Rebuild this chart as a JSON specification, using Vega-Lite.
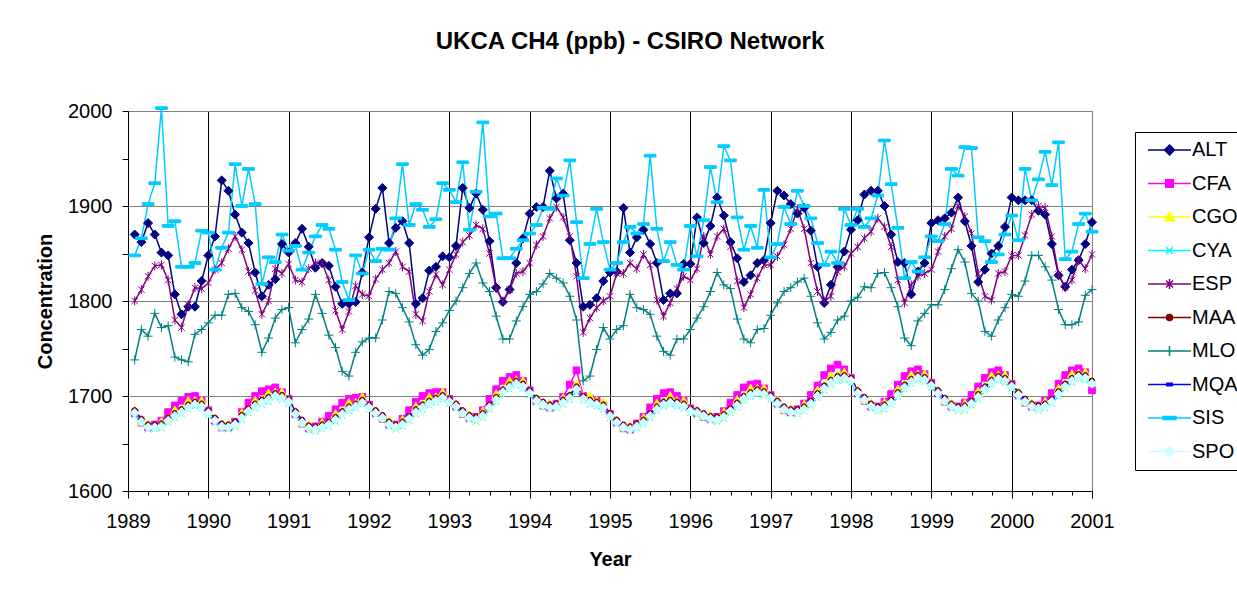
{
"$schema":"https://vega.github.io/schema/vega-lite/v6.json",
"width":964,"height":380,
"autosize":"none",
"padding":{"left":128,"top":111,"right":145,"bottom":99},
"background":"white",
"title":{"text":"UKCA CH4 (ppb) - CSIRO Network","font":"Liberation Sans","fontSize":24,"fontWeight":"bold","anchor":"middle","frame":"group","dx":20,"offset":47,"color":"black"},
"config":{"view":{"stroke":"#808080","strokeWidth":1},"font":"Liberation Sans"},
"data":{"values":[
{"m":1,"ALT":1870,"CFA":1682,"CGO":1685,"CYA":1680,"ESP":1800,"MAA":1685,"MLO":1738,"MQA":1684,"SIS":1848,"SPO":1682},
{"m":2,"ALT":1862,"CFA":1672,"CGO":1673,"CYA":1671,"ESP":1812,"MAA":1676,"MLO":1770,"MQA":1675,"SIS":1866,"SPO":1673},
{"m":3,"ALT":1882,"CFA":1667,"CGO":1671,"CYA":1665,"ESP":1826,"MAA":1670,"MLO":1763,"MQA":1669,"SIS":1902,"SPO":1667},
{"m":4,"ALT":1870,"CFA":1670,"CGO":1668,"CYA":1665,"ESP":1837,"MAA":1670,"MLO":1787,"MQA":1669,"SIS":1924,"SPO":1667},
{"m":5,"ALT":1851,"CFA":1674,"CGO":1673,"CYA":1666,"ESP":1838,"MAA":1671,"MLO":1772,"MQA":1670,"SIS":2003,"SPO":1668},
{"m":6,"ALT":1848,"CFA":1683,"CGO":1676,"CYA":1672,"ESP":1822,"MAA":1677,"MLO":1774,"MQA":1676,"SIS":1879,"SPO":1674},
{"m":7,"ALT":1807,"CFA":1690,"CGO":1685,"CYA":1677,"ESP":1780,"MAA":1682,"MLO":1741,"MQA":1681,"SIS":1884,"SPO":1679},
{"m":8,"ALT":1786,"CFA":1695,"CGO":1686,"CYA":1681,"ESP":1772,"MAA":1686,"MLO":1738,"MQA":1685,"SIS":1836,"SPO":1683},
{"m":9,"ALT":1794,"CFA":1699,"CGO":1695,"CYA":1686,"ESP":1796,"MAA":1691,"MLO":1736,"MQA":1690,"SIS":1836,"SPO":1688},
{"m":10,"ALT":1794,"CFA":1700,"CGO":1695,"CYA":1689,"ESP":1814,"MAA":1694,"MLO":1765,"MQA":1693,"SIS":1840,"SPO":1691},
{"m":11,"ALT":1821,"CFA":1695,"CGO":1695,"CYA":1687,"ESP":1813,"MAA":1692,"MLO":1770,"MQA":1691,"SIS":1874,"SPO":1689},
{"m":12,"ALT":1848,"CFA":1685,"CGO":1684,"CYA":1680,"ESP":1819,"MAA":1685,"MLO":1777,"MQA":1684,"SIS":1872,"SPO":1682},
{"m":13,"ALT":1868,"CFA":1674,"CGO":1677,"CYA":1672,"ESP":1833,"MAA":1677,"MLO":1785,"MQA":1676,"SIS":1833,"SPO":1674},
{"m":14,"ALT":1927,"CFA":1667,"CGO":1668,"CYA":1666,"ESP":1840,"MAA":1671,"MLO":1785,"MQA":1670,"SIS":1856,"SPO":1668},
{"m":15,"ALT":1916,"CFA":1667,"CGO":1671,"CYA":1665,"ESP":1855,"MAA":1670,"MLO":1807,"MQA":1669,"SIS":1872,"SPO":1667},
{"m":16,"ALT":1891,"CFA":1673,"CGO":1671,"CYA":1668,"ESP":1868,"MAA":1673,"MLO":1808,"MQA":1672,"SIS":1944,"SPO":1670},
{"m":17,"ALT":1872,"CFA":1683,"CGO":1682,"CYA":1675,"ESP":1854,"MAA":1680,"MLO":1793,"MQA":1679,"SIS":1900,"SPO":1677},
{"m":18,"ALT":1861,"CFA":1693,"CGO":1686,"CYA":1682,"ESP":1831,"MAA":1687,"MLO":1789,"MQA":1686,"SIS":1939,"SPO":1684},
{"m":19,"ALT":1830,"CFA":1700,"CGO":1695,"CYA":1687,"ESP":1811,"MAA":1692,"MLO":1775,"MQA":1691,"SIS":1902,"SPO":1689},
{"m":20,"ALT":1805,"CFA":1705,"CGO":1696,"CYA":1691,"ESP":1786,"MAA":1696,"MLO":1746,"MQA":1695,"SIS":1818,"SPO":1693},
{"m":21,"ALT":1817,"CFA":1707,"CGO":1703,"CYA":1694,"ESP":1800,"MAA":1699,"MLO":1761,"MQA":1698,"SIS":1846,"SPO":1696},
{"m":22,"ALT":1823,"CFA":1709,"CGO":1704,"CYA":1698,"ESP":1834,"MAA":1703,"MLO":1782,"MQA":1702,"SIS":1841,"SPO":1700},
{"m":23,"ALT":1860,"CFA":1704,"CGO":1704,"CYA":1696,"ESP":1829,"MAA":1701,"MLO":1791,"MQA":1700,"SIS":1870,"SPO":1698},
{"m":24,"ALT":1851,"CFA":1697,"CGO":1696,"CYA":1692,"ESP":1839,"MAA":1697,"MLO":1793,"MQA":1696,"SIS":1853,"SPO":1694},
{"m":25,"ALT":1861,"CFA":1681,"CGO":1684,"CYA":1679,"ESP":1822,"MAA":1684,"MLO":1756,"MQA":1683,"SIS":1858,"SPO":1681},
{"m":26,"ALT":1876,"CFA":1671,"CGO":1672,"CYA":1670,"ESP":1820,"MAA":1675,"MLO":1770,"MQA":1674,"SIS":1833,"SPO":1672},
{"m":27,"ALT":1857,"CFA":1666,"CGO":1670,"CYA":1664,"ESP":1834,"MAA":1669,"MLO":1781,"MQA":1668,"SIS":1851,"SPO":1666},
{"m":28,"ALT":1835,"CFA":1668,"CGO":1666,"CYA":1663,"ESP":1840,"MAA":1668,"MLO":1807,"MQA":1667,"SIS":1868,"SPO":1665},
{"m":29,"ALT":1840,"CFA":1673,"CGO":1672,"CYA":1665,"ESP":1840,"MAA":1670,"MLO":1787,"MQA":1669,"SIS":1880,"SPO":1667},
{"m":30,"ALT":1837,"CFA":1679,"CGO":1672,"CYA":1668,"ESP":1822,"MAA":1673,"MLO":1764,"MQA":1672,"SIS":1876,"SPO":1670},
{"m":31,"ALT":1815,"CFA":1686,"CGO":1681,"CYA":1673,"ESP":1790,"MAA":1678,"MLO":1751,"MQA":1677,"SIS":1854,"SPO":1675},
{"m":32,"ALT":1797,"CFA":1693,"CGO":1684,"CYA":1679,"ESP":1770,"MAA":1684,"MLO":1726,"MQA":1683,"SIS":1820,"SPO":1681},
{"m":33,"ALT":1797,"CFA":1697,"CGO":1693,"CYA":1684,"ESP":1789,"MAA":1689,"MLO":1721,"MQA":1688,"SIS":1801,"SPO":1686},
{"m":34,"ALT":1799,"CFA":1698,"CGO":1693,"CYA":1687,"ESP":1816,"MAA":1692,"MLO":1746,"MQA":1691,"SIS":1848,"SPO":1689},
{"m":35,"ALT":1830,"CFA":1699,"CGO":1699,"CYA":1691,"ESP":1807,"MAA":1696,"MLO":1757,"MQA":1695,"SIS":1829,"SPO":1693},
{"m":36,"ALT":1867,"CFA":1691,"CGO":1690,"CYA":1686,"ESP":1805,"MAA":1691,"MLO":1761,"MQA":1690,"SIS":1854,"SPO":1688},
{"m":37,"ALT":1897,"CFA":1682,"CGO":1685,"CYA":1680,"ESP":1823,"MAA":1685,"MLO":1761,"MQA":1684,"SIS":1842,"SPO":1682},
{"m":38,"ALT":1919,"CFA":1676,"CGO":1677,"CYA":1675,"ESP":1833,"MAA":1680,"MLO":1780,"MQA":1679,"SIS":1855,"SPO":1677},
{"m":39,"ALT":1861,"CFA":1670,"CGO":1674,"CYA":1668,"ESP":1840,"MAA":1673,"MLO":1810,"MQA":1672,"SIS":1854,"SPO":1670},
{"m":40,"ALT":1877,"CFA":1670,"CGO":1668,"CYA":1665,"ESP":1852,"MAA":1670,"MLO":1808,"MQA":1669,"SIS":1887,"SPO":1667},
{"m":41,"ALT":1884,"CFA":1676,"CGO":1675,"CYA":1668,"ESP":1836,"MAA":1673,"MLO":1793,"MQA":1672,"SIS":1944,"SPO":1670},
{"m":42,"ALT":1861,"CFA":1685,"CGO":1678,"CYA":1674,"ESP":1831,"MAA":1679,"MLO":1778,"MQA":1678,"SIS":1880,"SPO":1676},
{"m":43,"ALT":1797,"CFA":1694,"CGO":1689,"CYA":1681,"ESP":1786,"MAA":1686,"MLO":1754,"MQA":1685,"SIS":1902,"SPO":1683},
{"m":44,"ALT":1803,"CFA":1700,"CGO":1691,"CYA":1686,"ESP":1779,"MAA":1691,"MLO":1743,"MQA":1690,"SIS":1896,"SPO":1688},
{"m":45,"ALT":1832,"CFA":1703,"CGO":1699,"CYA":1690,"ESP":1810,"MAA":1695,"MLO":1749,"MQA":1694,"SIS":1878,"SPO":1692},
{"m":46,"ALT":1836,"CFA":1704,"CGO":1699,"CYA":1693,"ESP":1828,"MAA":1698,"MLO":1768,"MQA":1697,"SIS":1886,"SPO":1695},
{"m":47,"ALT":1847,"CFA":1704,"CGO":1704,"CYA":1696,"ESP":1817,"MAA":1701,"MLO":1777,"MQA":1700,"SIS":1924,"SPO":1698},
{"m":48,"ALT":1846,"CFA":1697,"CGO":1696,"CYA":1692,"ESP":1833,"MAA":1697,"MLO":1790,"MQA":1696,"SIS":1917,"SPO":1694},
{"m":49,"ALT":1858,"CFA":1689,"CGO":1692,"CYA":1687,"ESP":1849,"MAA":1692,"MLO":1800,"MQA":1691,"SIS":1904,"SPO":1689},
{"m":50,"ALT":1919,"CFA":1681,"CGO":1682,"CYA":1680,"ESP":1862,"MAA":1685,"MLO":1814,"MQA":1684,"SIS":1946,"SPO":1682},
{"m":51,"ALT":1898,"CFA":1677,"CGO":1681,"CYA":1675,"ESP":1869,"MAA":1680,"MLO":1829,"MQA":1679,"SIS":1875,"SPO":1677},
{"m":52,"ALT":1913,"CFA":1678,"CGO":1676,"CYA":1673,"ESP":1880,"MAA":1678,"MLO":1840,"MQA":1677,"SIS":1915,"SPO":1675},
{"m":53,"ALT":1896,"CFA":1685,"CGO":1684,"CYA":1677,"ESP":1876,"MAA":1682,"MLO":1819,"MQA":1681,"SIS":1988,"SPO":1679},
{"m":54,"ALT":1863,"CFA":1697,"CGO":1690,"CYA":1686,"ESP":1850,"MAA":1691,"MLO":1810,"MQA":1690,"SIS":1889,"SPO":1688},
{"m":55,"ALT":1814,"CFA":1707,"CGO":1702,"CYA":1694,"ESP":1813,"MAA":1699,"MLO":1784,"MQA":1698,"SIS":1892,"SPO":1696},
{"m":56,"ALT":1799,"CFA":1716,"CGO":1707,"CYA":1702,"ESP":1800,"MAA":1707,"MLO":1760,"MQA":1706,"SIS":1845,"SPO":1704},
{"m":57,"ALT":1812,"CFA":1720,"CGO":1716,"CYA":1707,"ESP":1812,"MAA":1712,"MLO":1760,"MQA":1711,"SIS":1845,"SPO":1709},
{"m":58,"ALT":1840,"CFA":1722,"CGO":1717,"CYA":1711,"ESP":1829,"MAA":1716,"MLO":1779,"MQA":1715,"SIS":1855,"SPO":1713},
{"m":59,"ALT":1866,"CFA":1716,"CGO":1716,"CYA":1708,"ESP":1831,"MAA":1713,"MLO":1794,"MQA":1712,"SIS":1864,"SPO":1710},
{"m":60,"ALT":1892,"CFA":1706,"CGO":1705,"CYA":1701,"ESP":1840,"MAA":1706,"MLO":1807,"MQA":1705,"SIS":1871,"SPO":1703},
{"m":61,"ALT":1899,"CFA":1695,"CGO":1698,"CYA":1693,"ESP":1859,"MAA":1698,"MLO":1810,"MQA":1697,"SIS":1880,"SPO":1695},
{"m":62,"ALT":1899,"CFA":1690,"CGO":1691,"CYA":1689,"ESP":1868,"MAA":1694,"MLO":1818,"MQA":1693,"SIS":1898,"SPO":1691},
{"m":63,"ALT":1937,"CFA":1688,"CGO":1692,"CYA":1686,"ESP":1887,"MAA":1691,"MLO":1829,"MQA":1690,"SIS":1897,"SPO":1688},
{"m":64,"ALT":1908,"CFA":1692,"CGO":1690,"CYA":1687,"ESP":1899,"MAA":1692,"MLO":1824,"MQA":1691,"SIS":1929,"SPO":1689},
{"m":65,"ALT":1913,"CFA":1699,"CGO":1698,"CYA":1691,"ESP":1888,"MAA":1696,"MLO":1819,"MQA":1695,"SIS":1911,"SPO":1693},
{"m":66,"ALT":1864,"CFA":1712,"CGO":1700,"CYA":1696,"ESP":1868,"MAA":1701,"MLO":1805,"MQA":1700,"SIS":1948,"SPO":1698},
{"m":67,"ALT":1840,"CFA":1727,"CGO":1713,"CYA":1705,"ESP":1826,"MAA":1710,"MLO":1780,"MQA":1709,"SIS":1883,"SPO":1707},
{"m":68,"ALT":1794,"CFA":1700,"CGO":1700,"CYA":1695,"ESP":1767,"MAA":1700,"MLO":1716,"MQA":1699,"SIS":1824,"SPO":1697},
{"m":69,"ALT":1796,"CFA":1697,"CGO":1700,"CYA":1691,"ESP":1782,"MAA":1696,"MLO":1721,"MQA":1695,"SIS":1860,"SPO":1693},
{"m":70,"ALT":1803,"CFA":1695,"CGO":1695,"CYA":1689,"ESP":1793,"MAA":1694,"MLO":1749,"MQA":1693,"SIS":1897,"SPO":1691},
{"m":71,"ALT":1821,"CFA":1690,"CGO":1694,"CYA":1686,"ESP":1800,"MAA":1691,"MLO":1772,"MQA":1690,"SIS":1862,"SPO":1688},
{"m":72,"ALT":1830,"CFA":1681,"CGO":1681,"CYA":1677,"ESP":1805,"MAA":1682,"MLO":1760,"MQA":1681,"SIS":1833,"SPO":1679},
{"m":73,"ALT":1831,"CFA":1672,"CGO":1675,"CYA":1670,"ESP":1829,"MAA":1675,"MLO":1770,"MQA":1674,"SIS":1840,"SPO":1672},
{"m":74,"ALT":1898,"CFA":1666,"CGO":1667,"CYA":1665,"ESP":1829,"MAA":1670,"MLO":1774,"MQA":1669,"SIS":1862,"SPO":1667},
{"m":75,"ALT":1851,"CFA":1665,"CGO":1669,"CYA":1663,"ESP":1840,"MAA":1668,"MLO":1807,"MQA":1667,"SIS":1878,"SPO":1665},
{"m":76,"ALT":1867,"CFA":1671,"CGO":1669,"CYA":1666,"ESP":1834,"MAA":1671,"MLO":1793,"MQA":1670,"SIS":1871,"SPO":1668},
{"m":77,"ALT":1875,"CFA":1678,"CGO":1677,"CYA":1670,"ESP":1849,"MAA":1675,"MLO":1791,"MQA":1674,"SIS":1881,"SPO":1672},
{"m":78,"ALT":1860,"CFA":1688,"CGO":1681,"CYA":1677,"ESP":1838,"MAA":1682,"MLO":1786,"MQA":1681,"SIS":1953,"SPO":1679},
{"m":79,"ALT":1840,"CFA":1697,"CGO":1692,"CYA":1684,"ESP":1801,"MAA":1689,"MLO":1763,"MQA":1688,"SIS":1876,"SPO":1686},
{"m":80,"ALT":1801,"CFA":1703,"CGO":1694,"CYA":1689,"ESP":1784,"MAA":1694,"MLO":1747,"MQA":1693,"SIS":1842,"SPO":1691},
{"m":81,"ALT":1808,"CFA":1704,"CGO":1700,"CYA":1691,"ESP":1798,"MAA":1696,"MLO":1743,"MQA":1695,"SIS":1862,"SPO":1693},
{"m":82,"ALT":1808,"CFA":1700,"CGO":1695,"CYA":1689,"ESP":1813,"MAA":1694,"MLO":1760,"MQA":1693,"SIS":1838,"SPO":1691},
{"m":83,"ALT":1839,"CFA":1695,"CGO":1695,"CYA":1687,"ESP":1826,"MAA":1692,"MLO":1760,"MQA":1691,"SIS":1833,"SPO":1689},
{"m":84,"ALT":1839,"CFA":1687,"CGO":1686,"CYA":1682,"ESP":1822,"MAA":1687,"MLO":1770,"MQA":1686,"SIS":1879,"SPO":1684},
{"m":85,"ALT":1888,"CFA":1682,"CGO":1685,"CYA":1680,"ESP":1834,"MAA":1685,"MLO":1782,"MQA":1684,"SIS":1847,"SPO":1682},
{"m":86,"ALT":1861,"CFA":1678,"CGO":1679,"CYA":1677,"ESP":1868,"MAA":1682,"MLO":1794,"MQA":1681,"SIS":1885,"SPO":1679},
{"m":87,"ALT":1879,"CFA":1676,"CGO":1680,"CYA":1674,"ESP":1849,"MAA":1679,"MLO":1810,"MQA":1678,"SIS":1941,"SPO":1676},
{"m":88,"ALT":1909,"CFA":1678,"CGO":1676,"CYA":1673,"ESP":1868,"MAA":1678,"MLO":1830,"MQA":1677,"SIS":1904,"SPO":1675},
{"m":89,"ALT":1890,"CFA":1684,"CGO":1683,"CYA":1676,"ESP":1876,"MAA":1681,"MLO":1817,"MQA":1680,"SIS":1963,"SPO":1678},
{"m":90,"ALT":1862,"CFA":1693,"CGO":1686,"CYA":1682,"ESP":1857,"MAA":1687,"MLO":1813,"MQA":1686,"SIS":1948,"SPO":1684},
{"m":91,"ALT":1845,"CFA":1701,"CGO":1696,"CYA":1688,"ESP":1821,"MAA":1693,"MLO":1781,"MQA":1692,"SIS":1888,"SPO":1690},
{"m":92,"ALT":1820,"CFA":1709,"CGO":1700,"CYA":1695,"ESP":1793,"MAA":1700,"MLO":1760,"MQA":1699,"SIS":1854,"SPO":1697},
{"m":93,"ALT":1827,"CFA":1712,"CGO":1708,"CYA":1699,"ESP":1807,"MAA":1704,"MLO":1756,"MQA":1703,"SIS":1879,"SPO":1701},
{"m":94,"ALT":1840,"CFA":1713,"CGO":1708,"CYA":1702,"ESP":1824,"MAA":1707,"MLO":1770,"MQA":1706,"SIS":1856,"SPO":1704},
{"m":95,"ALT":1843,"CFA":1708,"CGO":1708,"CYA":1700,"ESP":1838,"MAA":1705,"MLO":1771,"MQA":1704,"SIS":1917,"SPO":1702},
{"m":96,"ALT":1882,"CFA":1701,"CGO":1700,"CYA":1696,"ESP":1838,"MAA":1701,"MLO":1785,"MQA":1700,"SIS":1846,"SPO":1698},
{"m":97,"ALT":1916,"CFA":1692,"CGO":1695,"CYA":1690,"ESP":1847,"MAA":1695,"MLO":1798,"MQA":1694,"SIS":1860,"SPO":1692},
{"m":98,"ALT":1911,"CFA":1685,"CGO":1686,"CYA":1684,"ESP":1859,"MAA":1689,"MLO":1810,"MQA":1688,"SIS":1899,"SPO":1686},
{"m":99,"ALT":1902,"CFA":1683,"CGO":1687,"CYA":1681,"ESP":1876,"MAA":1686,"MLO":1814,"MQA":1685,"SIS":1881,"SPO":1683},
{"m":100,"ALT":1892,"CFA":1686,"CGO":1684,"CYA":1681,"ESP":1897,"MAA":1686,"MLO":1820,"MQA":1685,"SIS":1916,"SPO":1683},
{"m":101,"ALT":1898,"CFA":1692,"CGO":1691,"CYA":1684,"ESP":1876,"MAA":1689,"MLO":1824,"MQA":1688,"SIS":1900,"SPO":1686},
{"m":102,"ALT":1874,"CFA":1701,"CGO":1694,"CYA":1690,"ESP":1840,"MAA":1695,"MLO":1805,"MQA":1694,"SIS":1887,"SPO":1692},
{"m":103,"ALT":1836,"CFA":1711,"CGO":1706,"CYA":1698,"ESP":1810,"MAA":1703,"MLO":1777,"MQA":1702,"SIS":1861,"SPO":1700},
{"m":104,"ALT":1798,"CFA":1722,"CGO":1711,"CYA":1706,"ESP":1800,"MAA":1711,"MLO":1760,"MQA":1710,"SIS":1838,"SPO":1708},
{"m":105,"ALT":1817,"CFA":1729,"CGO":1721,"CYA":1712,"ESP":1805,"MAA":1717,"MLO":1767,"MQA":1716,"SIS":1852,"SPO":1714},
{"m":106,"ALT":1836,"CFA":1733,"CGO":1722,"CYA":1716,"ESP":1831,"MAA":1721,"MLO":1780,"MQA":1720,"SIS":1840,"SPO":1718},
{"m":107,"ALT":1852,"CFA":1728,"CGO":1725,"CYA":1717,"ESP":1836,"MAA":1722,"MLO":1784,"MQA":1721,"SIS":1897,"SPO":1719},
{"m":108,"ALT":1875,"CFA":1719,"CGO":1718,"CYA":1714,"ESP":1850,"MAA":1719,"MLO":1800,"MQA":1718,"SIS":1880,"SPO":1716},
{"m":109,"ALT":1885,"CFA":1703,"CGO":1706,"CYA":1701,"ESP":1857,"MAA":1706,"MLO":1804,"MQA":1705,"SIS":1897,"SPO":1703},
{"m":110,"ALT":1912,"CFA":1695,"CGO":1696,"CYA":1694,"ESP":1866,"MAA":1699,"MLO":1815,"MQA":1698,"SIS":1878,"SPO":1696},
{"m":111,"ALT":1916,"CFA":1689,"CGO":1693,"CYA":1687,"ESP":1873,"MAA":1692,"MLO":1814,"MQA":1691,"SIS":1887,"SPO":1689},
{"m":112,"ALT":1916,"CFA":1689,"CGO":1687,"CYA":1684,"ESP":1887,"MAA":1689,"MLO":1829,"MQA":1688,"SIS":1911,"SPO":1686},
{"m":113,"ALT":1900,"CFA":1694,"CGO":1693,"CYA":1686,"ESP":1878,"MAA":1691,"MLO":1830,"MQA":1690,"SIS":1969,"SPO":1688},
{"m":114,"ALT":1870,"CFA":1702,"CGO":1695,"CYA":1691,"ESP":1857,"MAA":1696,"MLO":1814,"MQA":1695,"SIS":1923,"SPO":1693},
{"m":115,"ALT":1841,"CFA":1712,"CGO":1707,"CYA":1699,"ESP":1822,"MAA":1704,"MLO":1794,"MQA":1703,"SIS":1877,"SPO":1701},
{"m":116,"ALT":1840,"CFA":1721,"CGO":1712,"CYA":1707,"ESP":1798,"MAA":1712,"MLO":1761,"MQA":1711,"SIS":1824,"SPO":1709},
{"m":117,"ALT":1807,"CFA":1726,"CGO":1722,"CYA":1713,"ESP":1817,"MAA":1718,"MLO":1753,"MQA":1717,"SIS":1841,"SPO":1715},
{"m":118,"ALT":1831,"CFA":1728,"CGO":1723,"CYA":1717,"ESP":1826,"MAA":1722,"MLO":1779,"MQA":1721,"SIS":1831,"SPO":1719},
{"m":119,"ALT":1840,"CFA":1723,"CGO":1723,"CYA":1715,"ESP":1829,"MAA":1720,"MLO":1787,"MQA":1719,"SIS":1846,"SPO":1717},
{"m":120,"ALT":1882,"CFA":1714,"CGO":1713,"CYA":1709,"ESP":1833,"MAA":1714,"MLO":1796,"MQA":1713,"SIS":1868,"SPO":1711},
{"m":121,"ALT":1885,"CFA":1703,"CGO":1706,"CYA":1701,"ESP":1852,"MAA":1706,"MLO":1796,"MQA":1705,"SIS":1863,"SPO":1703},
{"m":122,"ALT":1887,"CFA":1694,"CGO":1695,"CYA":1693,"ESP":1868,"MAA":1698,"MLO":1812,"MQA":1697,"SIS":1881,"SPO":1695},
{"m":123,"ALT":1893,"CFA":1689,"CGO":1693,"CYA":1687,"ESP":1876,"MAA":1692,"MLO":1834,"MQA":1691,"SIS":1939,"SPO":1689},
{"m":124,"ALT":1909,"CFA":1689,"CGO":1687,"CYA":1684,"ESP":1900,"MAA":1689,"MLO":1854,"MQA":1688,"SIS":1932,"SPO":1686},
{"m":125,"ALT":1884,"CFA":1693,"CGO":1692,"CYA":1685,"ESP":1889,"MAA":1690,"MLO":1841,"MQA":1689,"SIS":1962,"SPO":1687},
{"m":126,"ALT":1858,"CFA":1701,"CGO":1694,"CYA":1690,"ESP":1871,"MAA":1695,"MLO":1808,"MQA":1694,"SIS":1961,"SPO":1692},
{"m":127,"ALT":1820,"CFA":1710,"CGO":1705,"CYA":1697,"ESP":1829,"MAA":1702,"MLO":1800,"MQA":1701,"SIS":1867,"SPO":1699},
{"m":128,"ALT":1833,"CFA":1719,"CGO":1710,"CYA":1705,"ESP":1805,"MAA":1710,"MLO":1768,"MQA":1709,"SIS":1863,"SPO":1707},
{"m":129,"ALT":1850,"CFA":1725,"CGO":1721,"CYA":1712,"ESP":1801,"MAA":1717,"MLO":1763,"MQA":1716,"SIS":1841,"SPO":1714},
{"m":130,"ALT":1858,"CFA":1727,"CGO":1722,"CYA":1716,"ESP":1829,"MAA":1721,"MLO":1780,"MQA":1720,"SIS":1849,"SPO":1718},
{"m":131,"ALT":1878,"CFA":1722,"CGO":1722,"CYA":1714,"ESP":1831,"MAA":1719,"MLO":1793,"MQA":1718,"SIS":1870,"SPO":1716},
{"m":132,"ALT":1909,"CFA":1713,"CGO":1712,"CYA":1708,"ESP":1848,"MAA":1713,"MLO":1807,"MQA":1712,"SIS":1890,"SPO":1710},
{"m":133,"ALT":1906,"CFA":1701,"CGO":1704,"CYA":1699,"ESP":1848,"MAA":1704,"MLO":1805,"MQA":1703,"SIS":1864,"SPO":1701},
{"m":134,"ALT":1906,"CFA":1693,"CGO":1694,"CYA":1692,"ESP":1869,"MAA":1697,"MLO":1821,"MQA":1696,"SIS":1939,"SPO":1694},
{"m":135,"ALT":1906,"CFA":1689,"CGO":1693,"CYA":1687,"ESP":1891,"MAA":1692,"MLO":1848,"MQA":1691,"SIS":1906,"SPO":1689},
{"m":136,"ALT":1895,"CFA":1690,"CGO":1688,"CYA":1685,"ESP":1900,"MAA":1690,"MLO":1848,"MQA":1689,"SIS":1928,"SPO":1687},
{"m":137,"ALT":1891,"CFA":1695,"CGO":1694,"CYA":1687,"ESP":1898,"MAA":1692,"MLO":1836,"MQA":1691,"SIS":1957,"SPO":1689},
{"m":138,"ALT":1860,"CFA":1703,"CGO":1696,"CYA":1692,"ESP":1868,"MAA":1697,"MLO":1822,"MQA":1696,"SIS":1922,"SPO":1694},
{"m":139,"ALT":1827,"CFA":1713,"CGO":1708,"CYA":1700,"ESP":1828,"MAA":1705,"MLO":1791,"MQA":1704,"SIS":1967,"SPO":1702},
{"m":140,"ALT":1815,"CFA":1722,"CGO":1713,"CYA":1708,"ESP":1814,"MAA":1713,"MLO":1775,"MQA":1712,"SIS":1844,"SPO":1710},
{"m":141,"ALT":1833,"CFA":1727,"CGO":1723,"CYA":1714,"ESP":1822,"MAA":1719,"MLO":1775,"MQA":1718,"SIS":1852,"SPO":1716},
{"m":142,"ALT":1843,"CFA":1729,"CGO":1724,"CYA":1718,"ESP":1843,"MAA":1723,"MLO":1778,"MQA":1722,"SIS":1881,"SPO":1720},
{"m":143,"ALT":1860,"CFA":1725,"CGO":1725,"CYA":1717,"ESP":1834,"MAA":1722,"MLO":1806,"MQA":1721,"SIS":1892,"SPO":1719},
{"m":144,"ALT":1883,"CFA":1706,"CGO":1715,"CYA":1711,"ESP":1849,"MAA":1716,"MLO":1812,"MQA":1715,"SIS":1873,"SPO":1713}
]},
"transform":[{"fold":["ALT","CFA","CGO","CYA","ESP","MAA","MLO","MQA","SIS","SPO"],"as":["s","v"]}],
"encoding":{
"x":{"field":"m","type":"quantitative","scale":{"domain":[0,144],"nice":false,"zero":false},
 "axis":{"values":[0,3,6,9,12,15,18,21,24,27,30,33,36,39,42,45,48,51,54,57,60,63,66,69,72,75,78,81,84,87,90,93,96,99,102,105,108,111,114,117,120,123,126,129,132,135,138,141,144],
 "labelExpr":"datum.value % 12 === 0 ? '' + (1989 + datum.value / 12) : ''",
 "labelOverlap":false,"labelFlush":false,"labelFont":"Liberation Sans","labelFontSize":20,"labelColor":"black","labelPadding":13,
 "grid":true,"gridColor":{"condition":{"test":"datum.value % 12 === 0 && datum.value > 0 && datum.value < 144","value":"black"},"value":"transparent"},"gridOpacity":1,"gridWidth":1,
 "tickColor":"black","tickSize":{"condition":{"test":"datum.value % 12 === 0","value":7},"value":4},"domainColor":"black",
 "title":"Year","titleFont":"Liberation Sans","titleFontSize":20,"titleFontWeight":"bold","titleColor":"black","titlePadding":18}},
"y":{"field":"v","type":"quantitative","scale":{"domain":[1600,2000],"nice":false,"zero":false},
 "axis":{"values":[1600,1650,1700,1750,1800,1850,1900,1950,2000],
 "labelExpr":"datum.value % 100 === 0 ? '' + datum.value : ''",
 "labelOverlap":false,"labelFlush":false,"labelFont":"Liberation Sans","labelFontSize":20,"labelColor":"black","labelPadding":10,
 "grid":true,"gridColor":{"condition":{"test":"datum.value % 100 === 0 && datum.value > 1600","value":"#808080"},"value":"transparent"},"gridOpacity":1,
 "tickColor":"black","tickSize":6,"domainColor":"black",
 "title":"Concentration","titleFont":"Liberation Sans","titleFontSize":20,"titleFontWeight":"bold","titleColor":"black","titlePadding":12}}
},
"layer":[
{"mark":{"type":"line","strokeWidth":1.5},
 "encoding":{"color":{"field":"s","type":"nominal",
  "scale":{"domain":["ALT","CFA","CGO","CYA","ESP","MAA","MLO","MQA","SIS","SPO"],"range":["#000080","#FF00FF","#FFFF00","#00FFFF","#800080","#800000","#008080","#0000FF","#00CCFF","#CCFFFF"]},
  "legend":{"title":null,"orient":"none","legendX":1007,"legendY":21,"strokeColor":"black","fillColor":"white","padding":8,
   "symbolSize":100,"symbolOffset":16.5,"labelOffset":12.5,"labelFont":"Liberation Sans","labelFontSize":20,"labelColor":"black","rowPadding":13.5,
   "labelExpr":"datum.label + '\u00a0\u00a0\u00a0\u00a0\u00a0'",
   "encode":{"symbols":{"update":{
    "shape":{"signal":"datum.value==='ALT'?'M-4.3,0H4.3M0,-1L1,0L0,1L-1,0Z':datum.value==='CFA'?'M-4.3,0H4.3M-0.75,-0.75H0.75V0.75H-0.75Z':datum.value==='CGO'?'M-4.3,0H4.3M0,-0.95L0.95,0.75H-0.95Z':datum.value==='CYA'?'M-4.3,0H4.3M-0.7,-0.7L0.7,0.7M-0.7,0.7L0.7,-0.7':datum.value==='ESP'?'M-4.3,0H4.3M-0.7,-0.7L0.7,0.7M-0.7,0.7L0.7,-0.7M0,-1V1':datum.value==='MAA'?'M-4.3,0H4.3M0.6,0A0.6,0.6,0,1,1,-0.6,0A0.6,0.6,0,1,1,0.6,0Z':datum.value==='MLO'?'M-4.3,0H4.3M-1,0H1M0,-1V1':datum.value==='MQA'?'M-4.3,0H4.3M-0.55,-0.25H0.55V0.25H-0.55Z':datum.value==='SIS'?'M-4.3,0H4.3M-1.3,-0.3H1.3V0.3H-1.3Z':'M-4.3,0H4.3M0,-1L1,0L0,1L-1,0Z'"},
    "stroke":{"signal":"scale('color', datum.value)"},
    "fill":{"signal":"scale('color', datum.value)"},
    "strokeWidth":{"value":1.5},"size":{"value":100},"opacity":{"value":1},"fillOpacity":{"value":1},"strokeOpacity":{"value":1}}}}}}}},
{"transform":[{"filter":"datum.s === 'ALT'"}],"mark":{"type":"point","filled":true,"size":81,"strokeWidth":1,"opacity":1,"color":"#000080","stroke":"#000080","shape":"M0,-1L1,0L0,1L-1,0Z"}},
{"transform":[{"filter":"datum.s === 'CFA'"}],"mark":{"type":"point","filled":true,"size":81,"strokeWidth":1,"opacity":1,"color":"#FF00FF","stroke":"#FF00FF","shape":"M-0.75,-0.75H0.75V0.75H-0.75Z"}},
{"transform":[{"filter":"datum.s === 'CGO'"}],"mark":{"type":"point","filled":true,"size":81,"strokeWidth":1,"opacity":1,"color":"#FFFF00","stroke":"#FFFF00","shape":"M0,-0.95L0.95,0.75H-0.95Z"}},
{"transform":[{"filter":"datum.s === 'CYA'"}],"mark":{"type":"point","filled":true,"size":81,"strokeWidth":1,"opacity":1,"color":"#00FFFF","stroke":"#00FFFF","shape":"M-0.7,-0.7L0.7,0.7M-0.7,0.7L0.7,-0.7"}},
{"transform":[{"filter":"datum.s === 'ESP'"}],"mark":{"type":"point","filled":true,"size":81,"strokeWidth":1,"opacity":1,"color":"#800080","stroke":"#800080","shape":"M-0.7,-0.7L0.7,0.7M-0.7,0.7L0.7,-0.7M0,-1V1"}},
{"transform":[{"filter":"datum.s === 'MAA'"}],"mark":{"type":"point","filled":true,"size":81,"strokeWidth":1,"opacity":1,"color":"#800000","stroke":"#800000","shape":"M0.6,0A0.6,0.6,0,1,1,-0.6,0A0.6,0.6,0,1,1,0.6,0Z"}},
{"transform":[{"filter":"datum.s === 'MLO'"}],"mark":{"type":"point","filled":true,"size":81,"strokeWidth":1,"opacity":1,"color":"#008080","stroke":"#008080","shape":"M-1,0H1M0,-1V1"}},
{"transform":[{"filter":"datum.s === 'MQA'"}],"mark":{"type":"point","filled":true,"size":81,"strokeWidth":1,"opacity":1,"color":"#0000FF","stroke":"#0000FF","shape":"M-0.55,-0.25H0.55V0.25H-0.55Z"}},
{"transform":[{"filter":"datum.s === 'SIS'"}],"mark":{"type":"point","filled":true,"size":81,"strokeWidth":1,"opacity":1,"color":"#00CCFF","stroke":"#00CCFF","shape":"M-1.3,-0.3H1.3V0.3H-1.3Z"}},
{"transform":[{"filter":"datum.s === 'SPO'"}],"mark":{"type":"point","filled":true,"size":81,"strokeWidth":1,"opacity":1,"color":"#CCFFFF","stroke":"#CCFFFF","shape":"M0,-1L1,0L0,1L-1,0Z"}}
]
}
